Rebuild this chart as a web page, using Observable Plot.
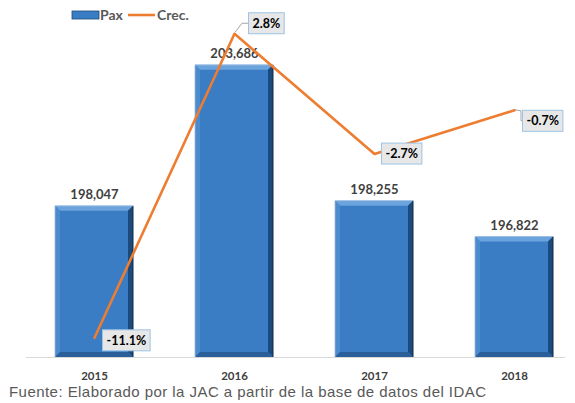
<!DOCTYPE html>
<html>
<head>
<meta charset="utf-8">
<script src="https://cdn.jsdelivr.net/npm/d3@7"></script>
<script src="https://cdn.jsdelivr.net/npm/@observablehq/plot@0.6"></script>
<style>
  html, body { margin: 0; padding: 0; background: #fff; }
  #wrap { position: relative; width: 575px; }
  #caption { font-family: "Liberation Sans", Arial, sans-serif; font-size: 15px; letter-spacing: 0.45px; color: #595959; line-height: 16px; margin: 0 0 0 9px; white-space: nowrap; }
</style>
</head>
<body>
<div id="wrap"></div>
<script>
// ---- data ----
const years = ["2015", "2016", "2017", "2018"];
const pax = [198047, 203686, 198255, 196822];
const crec = [-11.1, 2.8, -2.7, -0.7];

const data = years.map((y, i) => ({year: y, pax: pax[i], crec: crec[i]}));

// secondary axis (growth %) mapped onto the primary axis
const yMin = 192000, yMax = 206000;
const g2y = d3.scaleLinear([-12, 4], [yMin, yMax]);

// label placement (pixel offsets from the line point)
const labelOffsets = {"2015": [12, 3], "2016": [18, -10], "2017": [11, 0], "2018": [12, 11]};
const labelFont = "Lato, 'Open Sans', sans-serif";

const growthMarks = data.map(d => Plot.text([d], {
  x: "year",
  y: v => g2y(v.crec),
  text: v => v.crec.toFixed(1) + "%",
  dx: labelOffsets[d.year][0],
  dy: labelOffsets[d.year][1],
  textAnchor: "start",
  fontSize: 12.5,
  fontWeight: "bold",
  fill: "#000",
  className: "growth-label"
}));

const plot = Plot.plot({
  width: 575,
  height: 384,
  marginTop: 7,
  marginBottom: 27,
  marginLeft: 26,
  marginRight: 10,
  style: {fontFamily: labelFont, background: "transparent"},
  x: {type: "band", domain: years, range: [24, 584], paddingInner: 0.44, paddingOuter: 0.22, label: null},
  y: {domain: [yMin, yMax], axis: null},
  marks: [
    Plot.ruleY([yMin], {stroke: "#d9d9d9", strokeWidth: 1}),
    Plot.barY(data, {x: "year", y1: yMin, y2: "pax", fill: "#3a7dc4", className: "pax-bar"}),
    Plot.axisX({tickSize: 0, tickPadding: 14, fontSize: 11.5, fontWeight: "bold", fill: "#404040", label: null}),
    Plot.text(data, {x: "year", y: "pax", text: d => d3.format(",")(d.pax), lineAnchor: "bottom", dy: -7, fontSize: 13, fontWeight: "bold", fill: "#404040"}),
    Plot.line(data, {x: "year", y: d => g2y(d.crec), stroke: "#ed7d31", strokeWidth: 2.6}),
    ...growthMarks
  ]
});

const wrap = document.getElementById("wrap");
wrap.appendChild(plot);
const cap = document.createElement("div");
cap.id = "caption";
cap.textContent = "Fuente: Elaborado por la JAC a partir de la base de datos del IDAC";
wrap.appendChild(cap);

const svg = d3.select(plot);
const ns = "http://www.w3.org/2000/svg";

// bevel effect on bars
svg.selectAll("g.pax-bar rect").each(function() {
  const r = d3.select(this);
  const x = +r.attr("x"), y = +r.attr("y"), w = +r.attr("width"), h = +r.attr("height");
  const b = 5;
  const g = d3.select(this.parentNode).append("g");
  const poly = (pts, fill) => g.append("polygon").attr("points", pts.map(p => p.join(",")).join(" ")).attr("fill", fill);
  poly([[x, y], [x + w, y], [x + w - b, y + b], [x + b, y + b]], "#6ba3dd");
  poly([[x, y], [x + b, y + b], [x + b, y + h - b], [x, y + h]], "#4b8ccf");
  poly([[x + w, y], [x + w, y + h], [x + w - b, y + h - b], [x + w - b, y + b]], "#1d4a7c");
  poly([[x, y + h], [x + w, y + h], [x + w - b, y + h - b], [x + b, y + h - b]], "#2a5f9a");
  g.append("line").attr("x1", x + w).attr("x2", x + w).attr("y1", y).attr("y2", y + h).attr("stroke", "#0e2a48").attr("stroke-width", 1);
  g.append("line").attr("x1", x).attr("x2", x).attr("y1", y).attr("y2", y + h).attr("stroke", "#9fb9d6").attr("stroke-width", 0.8);
  g.append("line").attr("x1", x).attr("x2", x + w).attr("y1", y).attr("y2", y).attr("stroke", "#a9c6e6").attr("stroke-width", 0.8);
});

// boxes behind growth labels
const xs = plot.scale("x"), ys = plot.scale("y");
const bw = xs.bandwidth || 0;
svg.selectAll("g.growth-label text").each(function() {
  const bb = this.getBBox();
  const ctm = this.getAttribute("transform");
  const rect = document.createElementNS(ns, "rect");
  const cy = bb.y + bb.height / 2;
  rect.setAttribute("x", bb.x - 4);
  rect.setAttribute("y", cy - 10.5);
  rect.setAttribute("width", bb.width + 8);
  rect.setAttribute("height", 21);
  rect.setAttribute("fill", "#e7e7e7");
  rect.setAttribute("stroke", "#9dc3e6");
  rect.setAttribute("stroke-width", 1);
  if (ctm) rect.setAttribute("transform", ctm);
  this.parentNode.insertBefore(rect, this);
});

// leader lines for the two labels placed away from their points
const leader = (year, pts) => {
  const d = data.find(v => v.year === year);
  const px = xs.apply(year) + bw / 2, py = ys.apply(g2y(d.crec));
  svg.append("polyline")
    .attr("points", pts.map(([dx, dy]) => [px + dx, py + dy].join(",")).join(" "))
    .attr("fill", "none").attr("stroke", "#a6a6a6").attr("stroke-width", 1);
};
leader("2016", [[1, -1], [8, -10], [14, -10]]);
leader("2018", [[1, 0], [7, 1], [7, 11], [8, 11]]);

// legend
const lg = svg.append("g")
  .style("font-family", labelFont).style("font-size", "14px").style("font-weight", "bold")
  .attr("fill", "#595959").attr("text-anchor", "start");
lg.append("rect").attr("x", 72).attr("y", 11).attr("width", 27).attr("height", 8).attr("fill", "#3a7dc4").attr("stroke", "#1d4a7c").attr("stroke-width", 0.8);
lg.append("text").attr("x", 100).attr("y", 20).style("text-anchor", "start").text("Pax");
lg.append("line").attr("x1", 128).attr("x2", 155).attr("y1", 15).attr("y2", 15).attr("stroke", "#ed7d31").attr("stroke-width", 2.6);
lg.append("text").attr("x", 157).attr("y", 20).style("text-anchor", "start").text("Crec.");
</script>
</body>
</html>
